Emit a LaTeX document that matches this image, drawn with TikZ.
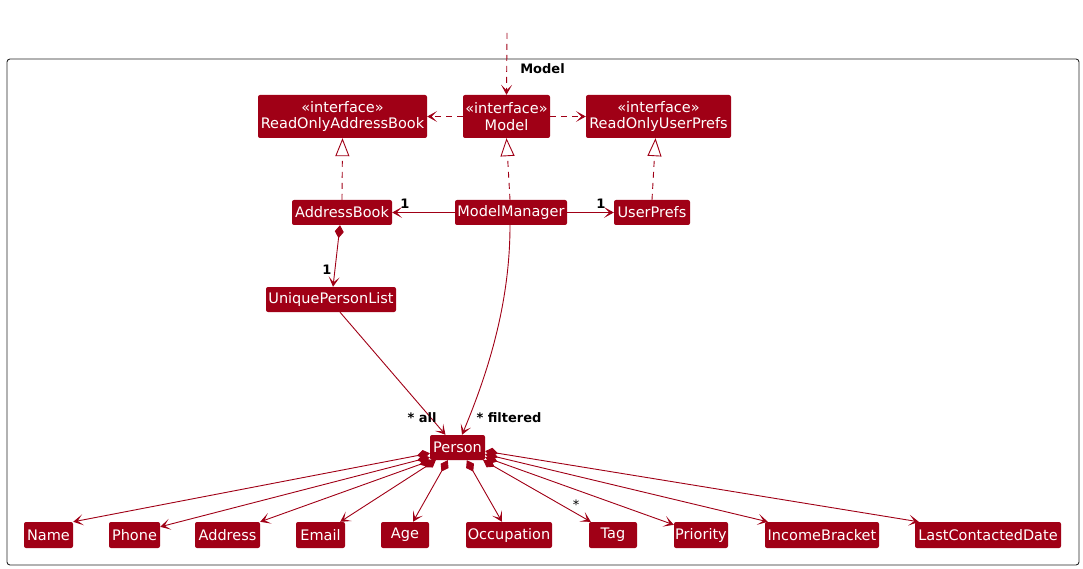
\documentclass[tikz,border=0pt]{standalone}
\usepackage{fontspec}
\setmainfont{DejaVu Sans}
\usetikzlibrary{arrows.meta,calc}
\definecolor{umlred}{RGB}{160,0,22}
\tikzset{
  cls/.style={fill=umlred,text=white,rounded corners=2pt,inner sep=0pt,font=\fontsize{14.5}{16.5}\selectfont,align=center},
  one/.style={cls,minimum height=25},
  two/.style={cls,minimum height=43},
  lnk/.style={draw=umlred,line width=0.9pt},
  dsh/.style={lnk,dash pattern=on 6pt off 5pt},
  tipa/.style={-{Stealth[length=10pt,width=11pt,inset=5.5pt]}},
  real/.style={-{Triangle[open,length=18pt,width=14pt,fill=white]}},
  comp/.style={{Diamond[length=13pt,width=9pt]}-{Stealth[length=10pt,width=11pt,inset=5.5pt]}},
  lbl/.style={font=\bfseries\fontsize{13}{15}\selectfont,inner sep=0pt},
}
\begin{document}
\begin{tikzpicture}[x=1pt,y=-1pt]
\useasboundingbox (0,0) rectangle (1083,569);
\draw[black!85,line width=0.9pt,rounded corners=3pt] (7,59) rectangle (1079,565);
\node[lbl] (pkg) at (542.5,69) {Model};

\node[two,minimum width=169] (roab) at (342.5,116.5) {«interface»\\ReadOnlyAddressBook};
\node[two,minimum width=87] (model) at (506.5,116.5) {«interface»\\Model};
\node[two,minimum width=145] (roup) at (658.5,116.5) {«interface»\\ReadOnlyUserPrefs};
\node[one,minimum width=100] (ab) at (342,212.5) {AddressBook};
\node[one,minimum width=112] (mm) at (511,212.5) {ModelManager};
\node[one,minimum width=76] (up) at (652,212.5) {UserPrefs};
\node[one,minimum width=130] (upl) at (331,299.5) {UniquePersonList};
\node[one,minimum width=55] (person) at (457.5,447.5) {Person};

\node[one,minimum width=49,minimum height=26] (name) at (48.5,535) {Name};
\node[one,minimum width=51,minimum height=26] (phone) at (134.5,535) {Phone};
\node[one,minimum width=65,minimum height=26] (address) at (227.5,535) {Address};
\node[one,minimum width=49,minimum height=26] (email) at (320.5,535) {Email};
\node[one,minimum width=48,minimum height=26] (age) at (405,535) {Age};
\node[one,minimum width=86,minimum height=26] (occ) at (509,535) {Occupation};
\node[one,minimum width=48,minimum height=26] (tag) at (613,535) {Tag};
\node[one,minimum width=54,minimum height=26] (prio) at (701,535) {Priority};
\node[one,minimum width=114,minimum height=26] (inc) at (822,535) {IncomeBracket};
\node[one,minimum width=146,minimum height=26] (lcd) at (988,535) {LastContactedDate};

\coordinate (entry) at (507,33);
\draw[dsh,tipa] (entry) -- (model.north);
\draw[dsh,tipa] (model.west) -- (roab.east);
\draw[dsh,tipa] (model.east) -- (roup.west);
\draw[dsh,real] (ab.north) -- (roab.south);
\draw[dsh,real] ($(mm.north)+(-1,0)$) -- (model.south);
\draw[dsh,real] (up.north) -- ($(roup.south)+(-3,0)$);

\draw[lnk,tipa] (mm.west) -- (ab.east);
\draw[lnk,tipa] (mm.east) -- (up.west);
\node[lbl] (l1) at (405,204) {1};
\node[lbl] (l2) at (601,204) {1};
\draw[lnk,comp] ($(ab.south)+(-2,0)$) -- ($(upl.north)+(2,0)$);
\node[lbl] (l3) at (327,270) {1};
\draw[lnk,tipa] ($(upl.south)+(9,0)$) -- ($(person.north)+(-12,0)$);
\draw[lnk,tipa] ($(mm.south)+(-1,0)$) .. controls (510,305) and (487,375) .. ($(person.north)+(4.5,0)$);
\node[lbl] (lall) at (422,418) {* all};
\node[lbl] (lfil) at (509,418) {* filtered};

\draw[lnk,comp] ($(person.south west)+(0,-7)$) -- (name.north east);
\draw[lnk,comp] ($(person.south west)+(0,-3)$) -- ($(phone.north east)+(0,5)$);
\draw[lnk,comp] ($(person.south west)+(2,0)$) -- (address.north east);
\draw[lnk,comp] ($(person.south west)+(6,0)$) -- ($(email.north east)+(-5,0)$);
\draw[lnk,comp] ($(person.south west)+(18,0)$) -- ($(age.north)+(8,0)$);
\draw[lnk,comp] ($(person.south west)+(37,0)$) -- ($(occ.north)+(-7,0)$);
\draw[lnk,comp] ($(person.south east)+(-2,0)$) -- ($(tag.north west)+(2,0)$);
\draw[lnk,comp] ($(person.south east)+(0,-3)$) -- ($(prio.north west)+(0,3)$);
\draw[lnk,comp] ($(person.south east)+(0,-6)$) -- ($(inc.north west)+(3,0)$);
\draw[lnk,comp] ($(person.south east)+(0,-9)$) -- ($(lcd.north west)+(4,0)$);
\node[font=\fontsize{13}{15}\selectfont,inner sep=0pt] (lstar) at (576,505) {*};
\end{tikzpicture}
\end{document}
